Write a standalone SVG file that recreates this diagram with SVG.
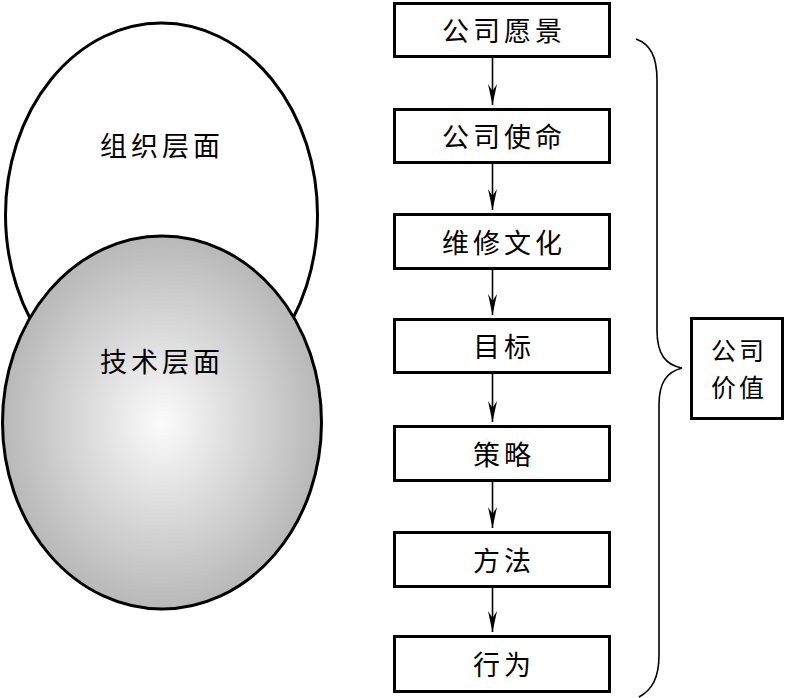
<svg xmlns="http://www.w3.org/2000/svg" width="786" height="698" viewBox="0 0 786 698">
<style>
.box{fill:#fff;stroke:#000;stroke-width:3}
.ell{stroke:#000;stroke-width:3}
.t{font-family:"Noto Sans CJK SC","Noto Sans CJK TC",sans-serif;font-size:27px;fill:#000;text-anchor:middle;letter-spacing:4px}
.v{font-size:25px;letter-spacing:3px}
.conn{stroke:#000;stroke-width:1.6;fill:none}
</style>
<defs>
<radialGradient id="g" cx="0.5" cy="0.5" r="0.5">
<stop offset="0" stop-color="#fbfbfb"/>
<stop offset="1" stop-color="#b8b8b8"/>
</radialGradient>
<marker id="ah" markerUnits="userSpaceOnUse" markerWidth="22" markerHeight="12" viewBox="-22 -6 22 12" refX="0" refY="0" orient="auto">
<path d="M0,0 L-21,-4.5 L-14,0 L-21,4.5 z" fill="#000"/>
</marker>
</defs>
<g id="org">
<ellipse class="ell" cx="161.5" cy="215" rx="156" ry="192" fill="#fff"/>
<text class="t" x="162" y="156">组织层面</text>
</g>
<g id="tech">
<ellipse class="ell" cx="162" cy="422.5" rx="159.5" ry="186.5" fill="url(#g)"/>
<text class="t" x="162" y="372">技术层面</text>
</g>
<g id="n1"><rect class="box" x="394.5" y="3.5" width="215" height="53"/><text class="t" x="504" y="41">公司愿景</text></g>
<g id="n2"><rect class="box" x="394.5" y="109.5" width="215" height="53"/><text class="t" x="504" y="147">公司使命</text></g>
<g id="n3"><rect class="box" x="394.5" y="214.5" width="215" height="54"/><text class="t" x="504" y="253">维修文化</text></g>
<g id="n4"><rect class="box" x="394.5" y="319.5" width="215" height="53"/><text class="t" x="504" y="357">目标</text></g>
<g id="n5"><rect class="box" x="394.5" y="426.5" width="215" height="54"/><text class="t" x="504" y="465">策略</text></g>
<g id="n6"><rect class="box" x="394.5" y="532.5" width="215" height="54"/><text class="t" x="504" y="571">方法</text></g>
<g id="n7"><rect class="box" x="394.5" y="636.5" width="215" height="55"/><text class="t" x="504" y="675">行为</text></g>
<g id="value">
<rect class="box" x="691.5" y="318.5" width="91" height="100"/>
<text class="t v" x="739" y="360">公司</text>
<text class="t v" x="739" y="396.5">价值</text>
</g>
<g id="connectors">
<line class="conn" x1="492.5" y1="58" x2="492.5" y2="105" marker-end="url(#ah)"/>
<line class="conn" x1="492.5" y1="164" x2="492.5" y2="210" marker-end="url(#ah)"/>
<line class="conn" x1="492.5" y1="270" x2="492.5" y2="315" marker-end="url(#ah)"/>
<line class="conn" x1="492.5" y1="374" x2="492.5" y2="422" marker-end="url(#ah)"/>
<line class="conn" x1="492.5" y1="482" x2="492.5" y2="528" marker-end="url(#ah)"/>
<line class="conn" x1="492.5" y1="588" x2="492.5" y2="632" marker-end="url(#ah)"/>
<path class="conn" d="M636,39 C650,44 657,56 657,80 L657,330 C657,355 666,365 682,368 C667,372 659,382 659,405 L659,655 C659,678 652,690 639,697"/>
</g>
</svg>
